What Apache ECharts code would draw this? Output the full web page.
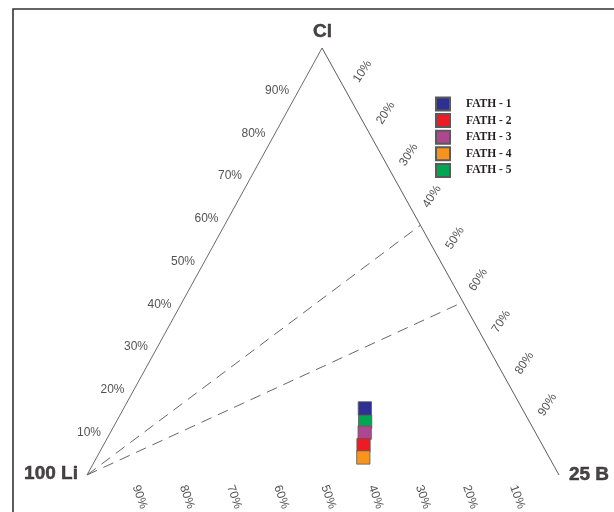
<!DOCTYPE html>
<html>
<head>
<meta charset="utf-8">
<style>html,body{margin:0;padding:0;background:#fff}#c{width:614px;height:512px}</style>
<script src="https://cdn.jsdelivr.net/npm/echarts@6/dist/echarts.min.js"></script>
</head>
<body>
<div id="c"></div>
<script>
// ---- data (ternary percentages: Li, B, Cl) ----
const sampleNames = ['FATH - 1', 'FATH - 2', 'FATH - 3', 'FATH - 4', 'FATH - 5'];
const liValues = [33.3, 37.9, 36.2, 39.4, 34.8];
const bValues  = [51.1, 55.1, 53.9, 56.5, 52.7];
const clValues = [15.6, 7.0, 9.9, 4.1, 12.5];
const tickValues = [10, 20, 30, 40, 50, 60, 70, 80, 90];
const tickLabels = ['10%', '20%', '30%', '40%', '50%', '60%', '70%', '80%', '90%'];
const vertexLabels = ['100 Li', '25 B', 'Cl'];
// guide (dashed) lines from the Li corner to the B–Cl side
const guideB  = [41.5, 59.5];
const guideCl = [58.5, 40.5];

// ---- styles ----
const sampleColors = ['#2e3192', '#ed1c24', '#ad4790', '#f7941d', '#00a651'];
const drawOrder = [4, 0, 2, 1, 3];
const APEX = 0.498;
const FONT = '"Liberation Sans", Arial, sans-serif';

function tern(li, b, cl) {
  const s = li + b + cl;
  return [(b + cl * APEX) / s, cl / s];
}
// label offset is applied in the rotated frame: convert a screen offset
function rotOffset(dx, dy, deg) {
  const t = deg * Math.PI / 180, c = Math.cos(t), s = Math.sin(t);
  return [dx * c - dy * s, dx * s + dy * c];
}

const series = [];
// triangle sides
series.push({
  type: 'line', silent: true, showSymbol: false, z: 1,
  data: [tern(0, 0, 100), tern(0, 100, 0)],
  lineStyle: { color: '#dcdcdc', width: 1 }
});
series.push({
  type: 'line', silent: true, showSymbol: false, z: 2,
  data: [tern(100, 0, 0), tern(0, 0, 100), tern(0, 100, 0)],
  lineStyle: { color: '#444', width: 0.8 }
});
// dashed guides
guideB.forEach((b, i) => {
  series.push({
    type: 'line', silent: true, showSymbol: false, z: 2,
    data: [tern(100, 0, 0), tern(0, b, guideCl[i])],
    lineStyle: { color: '#666', width: 1, type: [11, 7] }
  });
});

// tick labels helper
function labelSeries(points, texts, labelOpts) {
  return {
    type: 'scatter', silent: true, z: 3,
    symbolSize: 1, itemStyle: { color: 'transparent' },
    data: points.map((p, i) => ({ value: p, name: texts[i] })),
    label: Object.assign({
      show: true, position: 'inside', align: 'center', verticalAlign: 'middle',
      formatter: (d) => d.name, color: '#262626', fontSize: 12, fontFamily: FONT
    }, labelOpts)
  };
}
// left side (Cl %)
series.push(labelSeries(
  tickValues.map(v => tern(100 - v, 0, v)), tickLabels,
  { position: 'left', distance: 9, align: 'right' }
));
// bottom (Li %)
series.push(labelSeries(
  tickValues.map(v => tern(v, 100 - v, 0)), tickLabels,
  { rotate: -70, offset: rotOffset(5.5, 22, -70) }
));
// right side (B %)
series.push(labelSeries(
  tickValues.map((v, k) => { const q = 5.5 + 9.76 * k; return tern(0, q, 100 - q); }), tickLabels,
  { rotate: 57, offset: rotOffset(27.5, 0, 57) }
));
// vertex titles
const titleLabel = {
  show: true, position: 'inside', align: 'center', verticalAlign: 'middle',
  formatter: (d) => d.name, color: '#1a1718', fontSize: 19, fontWeight: 'bold', fontFamily: FONT,
  textBorderColor: '#1a1718', textBorderWidth: 0.5
};
series.push({
  type: 'scatter', silent: true, z: 3, symbolSize: 1, itemStyle: { color: 'transparent' },
  data: [
    { value: tern(100, 0, 0), name: vertexLabels[0], label: Object.assign({}, titleLabel, { offset: [-36, -1] }) },
    { value: tern(0, 100, 0), name: vertexLabels[1], label: Object.assign({}, titleLabel, { offset: [30, 0] }) },
    { value: tern(0, 0, 100), name: vertexLabels[2], label: Object.assign({}, titleLabel, { offset: [0.5, -16.5] }) }
  ],
  label: titleLabel
});

// samples
drawOrder.forEach((i, k) => {
  series.push({
    name: sampleNames[i], type: 'scatter', z: 10 + k,
    symbol: 'rect', symbolSize: 13.3,
    itemStyle: { color: sampleColors[i], borderColor: '#5a5a5a', borderWidth: 0.8, opacity: 1 },
    data: [tern(liValues[i], bValues[i], clValues[i])]
  });
});

const chart = echarts.init(document.getElementById('c'), null, { renderer: 'canvas' });
chart.setOption({
  animation: false,
  backgroundColor: '#fff',
  grid: { left: 87, right: 55, top: 48, bottom: 37 },
  xAxis: { type: 'value', min: 0, max: 1, show: false },
  yAxis: { type: 'value', min: 0, max: 1, show: false },
  legend: {
    data: sampleNames, orient: 'vertical', left: 435, top: 96.5,
    itemWidth: 14, itemHeight: 13, itemGap: 1.6, padding: 0,
    icon: 'rect', selectedMode: false,
    textStyle: { fontFamily: '"Liberation Serif", "Times New Roman", serif', fontWeight: 'bold',
                 fontSize: 11.5, color: '#231f20', padding: [0, 0, 0, 11] }
  },
  graphic: [{
    type: 'polyline', silent: true,
    shape: { points: [[13, 512], [13, 9], [614, 9]] },
    style: { stroke: '#333', lineWidth: 1.6, fill: null }
  }],
  series: series
});
</script>
</body>
</html>
